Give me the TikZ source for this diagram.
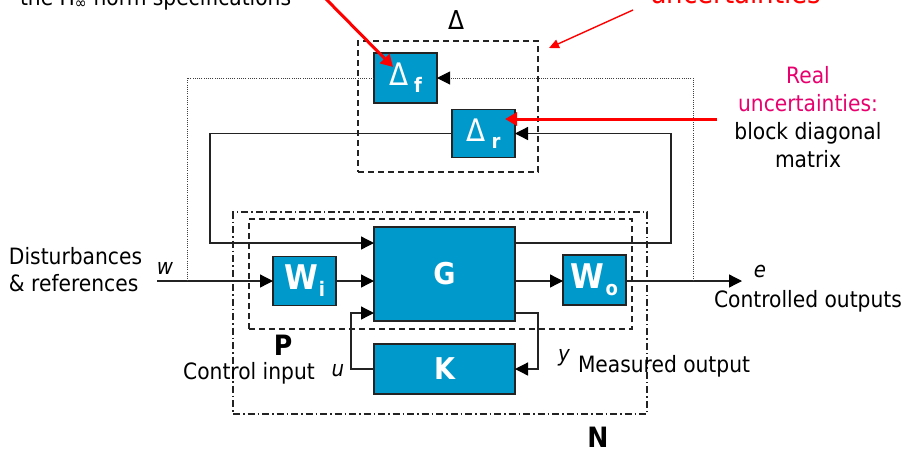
\documentclass[tikz,border=0pt]{standalone}
\usepackage{fontspec}
\setmainfont{DejaVu Sans Condensed}
\usepackage{tikz}
\usetikzlibrary{arrows.meta, positioning, calc}
\definecolor{blockblue}{RGB}{0,153,204}
\definecolor{realpink}{RGB}{232,0,110}
\definecolor{edgegray}{RGB}{35,35,35}
\newcommand{\blksub}[3]{#1\hspace{#3}\raisebox{-7pt}{\fontsize{20}{20}\selectfont #2}}

\begin{document}
\begin{tikzpicture}[
    x=1pt, y=-1pt,
    every node/.style={font=\fontsize{22.5}{27}\selectfont, inner sep=0pt, outer sep=0pt},
    blk/.style={draw=edgegray, fill=blockblue, line width=1.2pt, text=white,
                font=\fontsize{30}{30}\selectfont\bfseries},
    dblk/.style={blk, font=\fontsize{31}{31}\selectfont},
    frame/.style={draw=edgegray, line width=1.1pt},
    dbox/.style={frame, dash pattern=on 6pt off 4pt},
    ddbox/.style={frame, dash pattern=on 7pt off 3pt on 1.5pt off 3pt},
    wire/.style={draw=edgegray, line width=1.3pt},
    arr/.style={wire, -{Triangle[length=13pt,width=13pt,color=black]}},
    fict/.style={draw=black!75, line width=1pt, dash pattern=on 1pt off 1.2pt},
    farr/.style={fict, -{Triangle[length=13pt,width=13pt,color=black]}},
    redarr/.style={draw=red, line width=3pt, -{Triangle[length=12pt,width=13pt]}},
    thinred/.style={draw=red, line width=1.4pt, -{Triangle[length=10pt,width=9pt]}},
    sig/.style={font=\fontsize{22}{22}\selectfont\itshape},
    big/.style={font=\fontsize{28}{28}\selectfont\bfseries},
]
    \clip (0,0) rectangle (907,451);

    % Uncertainty blocks.
    \node[dbox, minimum width=180, minimum height=131] (dbox) at (448,106.5) {};
    \node[font=\fontsize{26}{26}\selectfont] (dlbl) at (456,20) {Δ};
    \node[dblk, minimum width=63, minimum height=50] (Df) at (405.5,78)
        {\mdseries\blksub{Δ}{\bfseries f}{6pt}};
    \node[dblk, minimum width=63, minimum height=48] (Dr) at (483.5,133.5)
        {\mdseries\blksub{Δ}{\bfseries r}{6pt}};

    % Plant, weights and controller.
    \node[blk, minimum width=141, minimum height=94] (G) at (444.5,274) {G};
    \node[blk, minimum width=63, minimum height=49] (Wi) at (304.5,281)
        {\fontsize{34}{34}\selectfont\blksub{W}{i}{1pt}};
    \node[blk, minimum width=63, minimum height=50] (Wo) at (594.5,280)
        {\fontsize{34}{34}\selectfont\blksub{W}{o}{1pt}};
    \node[blk, minimum width=141, minimum height=50] (K) at (444.5,369) {K};

    \node[dbox, minimum width=383, minimum height=110] (Pbox) at (440.5,274) {};
    \node[ddbox, minimum width=414, minimum height=202] (Nbox) at (440,313) {};
    \node[big] (Plbl) at (283,345) {P};
    \node[big] (Nlbl) at (598,437) {N};

    % Ports.
    \coordinate (win)  at (157,281);
    \coordinate (wtap) at (187,281);
    \coordinate (eout) at (742,281);
    \coordinate (etap) at (693,281);
    \coordinate (gin1) at (374,243);
    \coordinate (gout1) at (515,243);
    \coordinate (gin3) at (374,313);
    \coordinate (gout3) at (515,313);

    % Signal flow.
    \draw[arr] (win) -- (Wi.west);
    \draw[arr] (Wi.east) -- (Wi.east -| G.west);
    \draw[arr] (win -| G.east) -- (win -| Wo.west);
    \draw[arr] (win -| Wo.east) -- (eout);
    \draw[arr] (Dr.west) -| (210,243) -- (gin1);
    \draw[arr] (gout1) -- (671,243) |- (Dr.east);
    \draw[arr] (K.west) -| (351,313) -- (gin3);
    \draw[arr] (gout3) -| (538,369) -- (K.east);
    \draw[fict] (Df.west) -| (wtap);
    \draw[farr] (etap) |- (Df.east);

    % Signal names.
    \node[sig] (wlbl) at (165,268) {w};
    \node[sig] (elbl) at (760,271) {e};
    \node[sig] (ulbl) at (338,371) {u};
    \node[sig] (ylbl) at (564,358) {y};
    \node[anchor=west, align=left] (dist) at (9,270) {Disturbances\\\& references};
    \node (ctrlout) at (808,301) {Controlled outputs};
    \node (ctrlin) at (249,373) {Control input};
    \node[anchor=west] (meas) at (578,366) {Measured output};

    % Annotations.
    \node[anchor=base west] (hinf) at (20,5) {the H\textsubscript{∞} norm specifications};
    \node[anchor=base west, text=red, font=\fontsize{29}{29}\selectfont] (unc) at (650,3) {uncertainties};
    \node[align=center, font=\fontsize{22.5}{28}\selectfont] (real) at (808,117)
        {\textcolor{realpink}{Real}\\\textcolor{realpink}{uncertainties:}\\block diagonal\\matrix};
    \coordinate (hstart) at (325,-2);
    \coordinate (ustart) at (633,10);
    \coordinate (rstart) at (717,119);
    \draw[redarr] (hstart) -- (393,67);
    \draw[thinred] (ustart) -- (549,48);
    \draw[redarr] (rstart) -- (505,119);
\end{tikzpicture}
\end{document}
